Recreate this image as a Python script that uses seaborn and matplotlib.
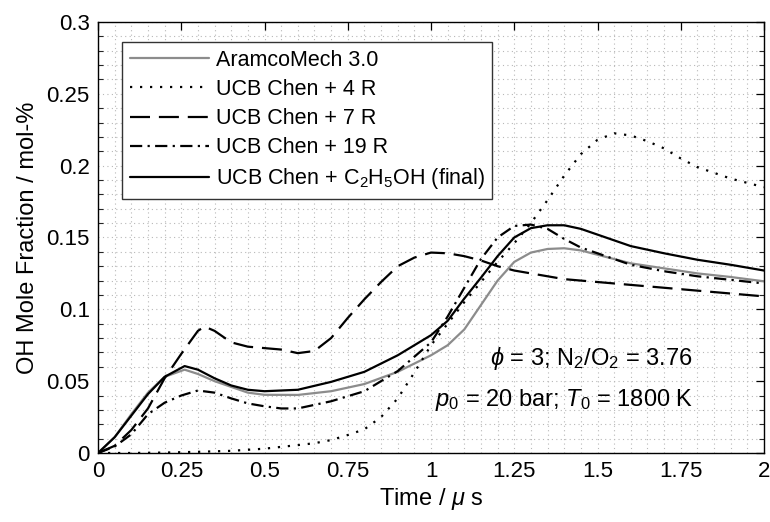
import numpy as np
import pandas as pd
import matplotlib
matplotlib.use("Agg")
import matplotlib.pyplot as plt
from matplotlib.ticker import MultipleLocator, FuncFormatter
import seaborn as sns

# ---------------- data ----------------
t_aramco = [0, 0.05, 0.1, 0.15, 0.2, 0.26, 0.3, 0.35, 0.4, 0.45, 0.5, 0.6, 0.7, 0.8, 0.9,
            1.0, 1.05, 1.1, 1.15, 1.2, 1.25, 1.3, 1.35, 1.4, 1.45, 1.5, 1.6, 1.7, 1.8, 1.9, 2.0]
oh_aramco = [0, 0.011, 0.027, 0.042, 0.053, 0.058, 0.055, 0.050, 0.046, 0.042, 0.0405, 0.0404,
             0.043, 0.048, 0.0565, 0.068, 0.075, 0.086, 0.103, 0.120, 0.133, 0.1395, 0.142,
             0.1425, 0.141, 0.138, 0.132, 0.1285, 0.125, 0.1225, 0.1195]

t_4r = [0, 0.1, 0.2, 0.3, 0.4, 0.5, 0.6, 0.65, 0.7, 0.75, 0.8, 0.85, 0.9, 0.95, 1.0, 1.05,
        1.1, 1.15, 1.2, 1.25, 1.3, 1.35, 1.4, 1.45, 1.5, 1.55, 1.6, 1.65, 1.7, 1.75, 1.8,
        1.85, 1.9, 1.95, 2.0]
oh_4r = [0, 0.0, 0.0003, 0.0008, 0.0015, 0.003, 0.0055, 0.0068, 0.009, 0.0125, 0.0165,
         0.025, 0.038, 0.056, 0.075, 0.090, 0.105, 0.119, 0.133, 0.146, 0.160, 0.176, 0.193,
         0.208, 0.218, 0.2225, 0.221, 0.217, 0.212, 0.205, 0.199, 0.195, 0.191, 0.188, 0.185]

t_7r = [0, 0.05, 0.1, 0.15, 0.2, 0.25, 0.3, 0.32, 0.35, 0.4, 0.45, 0.5, 0.55, 0.6, 0.65,
        0.7, 0.75, 0.8, 0.85, 0.9, 0.95, 1.0, 1.05, 1.1, 1.15, 1.2, 1.25, 1.3, 1.4, 1.5,
        1.6, 1.7, 1.8, 1.9, 2.0]
oh_7r = [0, 0.005, 0.016, 0.031, 0.052, 0.069, 0.085, 0.088, 0.085, 0.077, 0.074, 0.073,
         0.072, 0.0695, 0.071, 0.080, 0.094, 0.107, 0.119, 0.130, 0.136, 0.1395, 0.139,
         0.137, 0.134, 0.130, 0.127, 0.125, 0.121, 0.119, 0.117, 0.115, 0.113, 0.111, 0.109]

t_19r = [0, 0.05, 0.1, 0.15, 0.2, 0.25, 0.3, 0.35, 0.4, 0.45, 0.5, 0.55, 0.6, 0.7, 0.8,
         0.9, 1.0, 1.05, 1.1, 1.15, 1.2, 1.25, 1.3, 1.35, 1.4, 1.45, 1.5, 1.6, 1.7, 1.8,
         1.9, 2.0]
oh_19r = [0, 0.0045, 0.013, 0.027, 0.035, 0.040, 0.0435, 0.042, 0.038, 0.0345, 0.0325,
          0.031, 0.031, 0.036, 0.043, 0.057, 0.077, 0.095, 0.115, 0.135, 0.150, 0.158,
          0.159, 0.156, 0.149, 0.143, 0.139, 0.131, 0.1265, 0.123, 0.1205, 0.118]

t_final = [0, 0.05, 0.1, 0.15, 0.2, 0.26, 0.3, 0.35, 0.4, 0.45, 0.5, 0.6, 0.7, 0.8, 0.9,
           1.0, 1.05, 1.1, 1.15, 1.2, 1.25, 1.3, 1.35, 1.4, 1.45, 1.5, 1.6, 1.7, 1.8, 1.9, 2.0]
oh_final = [0, 0.011, 0.026, 0.041, 0.053, 0.0605, 0.058, 0.052, 0.047, 0.044, 0.043, 0.044,
            0.0495, 0.0565, 0.068, 0.082, 0.092, 0.1075, 0.122, 0.137, 0.150, 0.1565, 0.1585,
            0.1585, 0.156, 0.152, 0.144, 0.139, 0.1345, 0.131, 0.127]

labels = ["AramcoMech 3.0", "UCB Chen + 4 R", "UCB Chen + 7 R", "UCB Chen + 19 R",
          "UCB Chen + C$_2$H$_5$OH (final)"]
xticks = [0, 0.25, 0.5, 0.75, 1, 1.25, 1.5, 1.75, 2]
yticks = [0, 0.05, 0.1, 0.15, 0.2, 0.25, 0.3]

# ---------------- style ----------------
sns.set_theme(style="white")
plt.rcParams["font.family"] = ["Liberation Sans", "DejaVu Sans"]
plt.rcParams["mathtext.fontset"] = "custom"
plt.rcParams["mathtext.rm"] = "Liberation Sans"
plt.rcParams["mathtext.it"] = "Liberation Sans:italic"
plt.rcParams["mathtext.bf"] = "Liberation Sans:bold"
plt.rcParams["text.color"] = "black"
plt.rcParams["axes.labelcolor"] = "black"

fig = plt.figure(figsize=(7.7, 5.22), dpi=100)
ax = fig.add_axes([0.1273, 0.1322, 0.8649, 0.8257])
ax.set_facecolor("white")

series = [
    (t_aramco, oh_aramco, "#8c8c8c", "-"),
    (t_4r, oh_4r, "black", (0, (1, 3.5))),
    (t_7r, oh_7r, "black", (0, (9.0, 4.0))),
    (t_19r, oh_19r, "black", (0, (5.5, 2.4, 1.0, 2.4))),
    (t_final, oh_final, "black", "-"),
]

for (tt, yy, col, ls), lab in zip(series, labels):
    df = pd.DataFrame({"t": tt, "oh": yy})
    sns.lineplot(data=df, x="t", y="oh", ax=ax, color=col, linestyle=ls,
                 linewidth=1.6, label=lab, estimator=None, sort=False)

ax.set_xlim(0, 2)
ax.set_ylim(0, 0.3)
ax.set_xticks(xticks)
ax.set_yticks(yticks)
ax.xaxis.set_major_formatter(FuncFormatter(lambda v, p: f"{v:g}"))
ax.yaxis.set_major_formatter(FuncFormatter(lambda v, p: f"{v:g}"))
ax.xaxis.set_minor_locator(MultipleLocator(0.05))
ax.yaxis.set_minor_locator(MultipleLocator(0.01))

ax.grid(which="both", linestyle=(0, (1, 3)), color="#b8b8b8", linewidth=0.8)
ax.set_axisbelow(True)

ax.tick_params(axis="both", which="major", direction="in", length=6, width=0.9,
               top=True, right=True, labelsize=16, colors="black", pad=6)
ax.tick_params(axis="y", which="minor", direction="in", length=3.5, width=0.8,
               left=True, right=True)
ax.tick_params(axis="x", which="minor", length=0)
for sp in ax.spines.values():
    sp.set_color("black")
    sp.set_linewidth(1.0)
    sp.set_visible(True)

ax.set_xlabel("Time / $\\mu$ s", fontsize=17, labelpad=3, color="black")
ax.set_ylabel("OH Mole Fraction / mol-%", fontsize=17, labelpad=5, color="black")

ax.text(1.48, 0.066, "$\\phi$ = 3; N$_2$/O$_2$ = 3.76", fontsize=17,
        ha="center", va="center")
ax.text(1.40, 0.037, "$p_{\\mathit{0}}$ = 20 bar; $T_{\\mathit{0}}$ = 1800 K", fontsize=17,
        ha="center", va="center")

leg = ax.legend(loc="upper left", bbox_to_anchor=(0.036, 0.953), fontsize=15.5,
                handlelength=3.7, handletextpad=0.3, labelspacing=0.38,
                borderpad=0.35, fancybox=False, framealpha=1, edgecolor="#333333",
                borderaxespad=0)
leg.get_frame().set_linewidth(1.0)

fig.savefig("out.png", dpi=100, facecolor="white")
